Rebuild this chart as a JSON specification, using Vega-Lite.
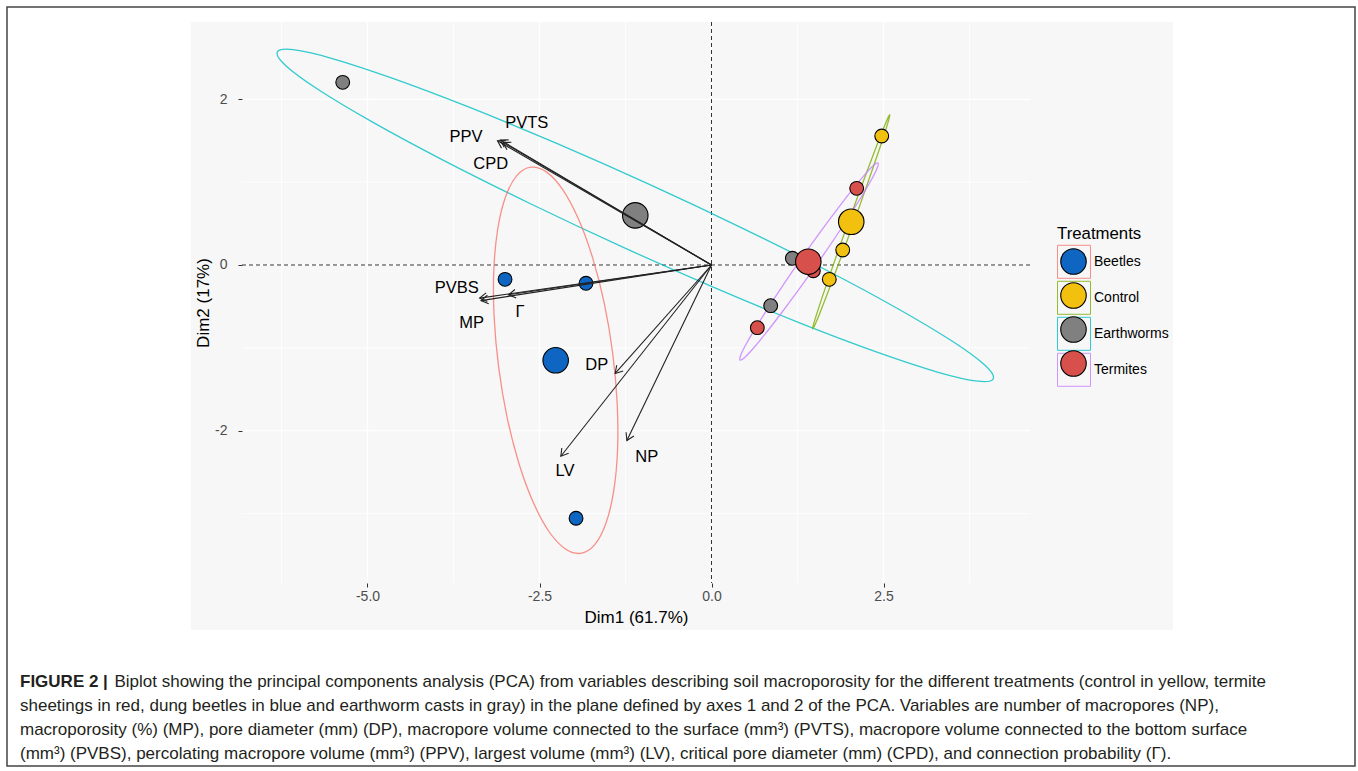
{
  "$schema": "https://vega.github.io/schema/vega-lite/v6.json",
  "width": 1348,
  "height": 759,
  "autosize": {"type": "none"},
  "padding": {"left": 7, "top": 7, "right": 3, "bottom": 5},
  "background": "white",
  "config": {
    "view": {"stroke": "#444444", "strokeWidth": 1.5, "fill": "white"},
    "font": "Liberation Sans",
    "locale": {"number": {"decimal": ".", "thousands": ",", "grouping": [3], "currency": ["$", ""], "minus": "-"}}
  },
  "title": {
    "text": "FIGURE 2 |",
    "subtitle": [
      "\u200b\u00a0\u00a0\u00a0\u00a0\u00a0\u00a0\u00a0\u00a0\u00a0\u00a0\u00a0\u00a0\u00a0\u00a0\u00a0\u00a0\u00a0\u00a0\u00a0\u00a0Biplot showing the principal components analysis (PCA) from variables describing soil macroporosity for the different treatments (control in yellow, termite",
      "sheetings in red, dung beetles in blue and earthworm casts in gray) in the plane defined by axes 1 and 2 of the PCA. Variables are number of macropores (NP),",
      "macroporosity (%) (MP), pore diameter (mm) (DP), macropore volume connected to the surface (mm³) (PVTS), macropore volume connected to the bottom surface",
      "(mm³) (PVBS), percolating macropore volume (mm³) (PPV), largest volume (mm³) (LV), critical pore diameter (mm) (CPD), and connection probability (Γ)."
    ],
    "orient": "bottom",
    "anchor": "start",
    "frame": "group",
    "offset": -92,
    "dx": 13,
    "font": "Liberation Sans",
    "fontSize": 17,
    "fontWeight": "bold",
    "color": "#231f20",
    "subtitleFont": "Liberation Sans",
    "subtitleFontSize": 17,
    "subtitleFontWeight": "normal",
    "subtitleColor": "#231f20",
    "subtitleLineHeight": 24,
    "subtitlePadding": -17
  },
  "datasets": {
    "individuals": [
      {"Treatments": "Beetles", "Dim1": -3.001, "Dim2": -0.173},
      {"Treatments": "Beetles", "Dim1": -1.824, "Dim2": -0.221},
      {"Treatments": "Beetles", "Dim1": -1.969, "Dim2": -3.059},
      {"Treatments": "Control", "Dim1": 2.474, "Dim2": 1.558},
      {"Treatments": "Control", "Dim1": 1.907, "Dim2": 0.181},
      {"Treatments": "Control", "Dim1": 1.712, "Dim2": -0.173},
      {"Treatments": "Earthworms", "Dim1": -5.36, "Dim2": 2.206},
      {"Treatments": "Earthworms", "Dim1": 1.175, "Dim2": 0.081},
      {"Treatments": "Earthworms", "Dim1": 0.86, "Dim2": -0.491},
      {"Treatments": "Termites", "Dim1": 2.11, "Dim2": 0.926},
      {"Treatments": "Termites", "Dim1": 1.48, "Dim2": -0.069},
      {"Treatments": "Termites", "Dim1": 0.666, "Dim2": -0.757}
    ],
    "centroids": [
      {"Treatments": "Beetles", "Dim1": -2.265, "Dim2": -1.151},
      {"Treatments": "Control", "Dim1": 2.031, "Dim2": 0.522},
      {"Treatments": "Earthworms", "Dim1": -1.108, "Dim2": 0.599},
      {"Treatments": "Termites", "Dim1": 1.407, "Dim2": 0.04}
    ],
    "vars": [
      {"v": "PVTS", "Dim1": -3.07, "Dim2": 1.51, "heading": -59.4, "lx": -2.686, "ly": 1.719},
      {"v": "PPV", "Dim1": -3.11, "Dim2": 1.5, "heading": -59.9, "lx": -3.568, "ly": 1.542},
      {"v": "CPD", "Dim1": -3.03, "Dim2": 1.48, "heading": -59.6, "lx": -3.209, "ly": 1.216},
      {"v": "PVBS", "Dim1": -3.37, "Dim2": -0.4, "heading": -98.1, "lx": -3.703, "ly": -0.282},
      {"v": "MP", "Dim1": -3.35, "Dim2": -0.43, "heading": -98.8, "lx": -3.486, "ly": -0.697},
      {"v": "Γ", "Dim1": -2.95, "Dim2": -0.36, "heading": -98.4, "lx": -2.783, "ly": -0.564},
      {"v": "DP", "Dim1": -1.4, "Dim2": -1.31, "heading": -138.3, "lx": -1.669, "ly": -1.208},
      {"v": "LV", "Dim1": -2.19, "Dim2": -2.31, "heading": -141.8, "lx": -2.129, "ly": -2.484},
      {"v": "NP", "Dim1": -1.23, "Dim2": -2.12, "heading": -154.2, "lx": -0.942, "ly": -2.315}
    ],
    "gridx": [
      {"g": -6.25, "kind": "minor"}, {"g": -5, "kind": "major"}, {"g": -3.75, "kind": "minor"},
      {"g": -2.5, "kind": "major"}, {"g": -1.25, "kind": "minor"}, {"g": 0, "kind": "major"},
      {"g": 1.25, "kind": "minor"}, {"g": 2.5, "kind": "major"}, {"g": 3.75, "kind": "minor"}
    ],
    "gridy": [
      {"g": -3, "kind": "minor"}, {"g": -2, "kind": "major"}, {"g": -1, "kind": "minor"},
      {"g": 0, "kind": "major"}, {"g": 1, "kind": "minor"}, {"g": 2, "kind": "major"}
    ],
    "ellipses": [
      {"Group": "Earthworms", "k": 0, "Dim1": 4.095, "Dim2": -1.373},
      {"Group": "Earthworms", "k": 1, "Dim1": 3.865, "Dim2": -1.403},
      {"Group": "Earthworms", "k": 2, "Dim1": 3.295, "Dim2": -1.296},
      {"Group": "Earthworms", "k": 3, "Dim1": 2.426, "Dim2": -1.059},
      {"Group": "Earthworms", "k": 4, "Dim1": 1.316, "Dim2": -0.711},
      {"Group": "Earthworms", "k": 5, "Dim1": 0.042, "Dim2": -0.273},
      {"Group": "Earthworms", "k": 6, "Dim1": -1.313, "Dim2": 0.225},
      {"Group": "Earthworms", "k": 7, "Dim1": -2.654, "Dim2": 0.749},
      {"Group": "Earthworms", "k": 8, "Dim1": -3.888, "Dim2": 1.261},
      {"Group": "Earthworms", "k": 9, "Dim1": -4.932, "Dim2": 1.729},
      {"Group": "Earthworms", "k": 10, "Dim1": -5.717, "Dim2": 2.12},
      {"Group": "Earthworms", "k": 11, "Dim1": -6.187, "Dim2": 2.407},
      {"Group": "Earthworms", "k": 12, "Dim1": -6.311, "Dim2": 2.571},
      {"Group": "Earthworms", "k": 13, "Dim1": -6.081, "Dim2": 2.601},
      {"Group": "Earthworms", "k": 14, "Dim1": -5.511, "Dim2": 2.494},
      {"Group": "Earthworms", "k": 15, "Dim1": -4.642, "Dim2": 2.257},
      {"Group": "Earthworms", "k": 16, "Dim1": -3.532, "Dim2": 1.909},
      {"Group": "Earthworms", "k": 17, "Dim1": -2.258, "Dim2": 1.471},
      {"Group": "Earthworms", "k": 18, "Dim1": -0.903, "Dim2": 0.973},
      {"Group": "Earthworms", "k": 19, "Dim1": 0.438, "Dim2": 0.449},
      {"Group": "Earthworms", "k": 20, "Dim1": 1.672, "Dim2": -0.063},
      {"Group": "Earthworms", "k": 21, "Dim1": 2.716, "Dim2": -0.531},
      {"Group": "Earthworms", "k": 22, "Dim1": 3.501, "Dim2": -0.922},
      {"Group": "Earthworms", "k": 23, "Dim1": 3.971, "Dim2": -1.209},
      {"Group": "Beetles", "k": 0, "Dim1": -1.902, "Dim2": -3.483},
      {"Group": "Beetles", "k": 1, "Dim1": -1.7, "Dim2": -3.381},
      {"Group": "Beetles", "k": 2, "Dim1": -1.537, "Dim2": -3.126},
      {"Group": "Beetles", "k": 3, "Dim1": -1.423, "Dim2": -2.737},
      {"Group": "Beetles", "k": 4, "Dim1": -1.366, "Dim2": -2.24},
      {"Group": "Beetles", "k": 5, "Dim1": -1.371, "Dim2": -1.669},
      {"Group": "Beetles", "k": 6, "Dim1": -1.437, "Dim2": -1.062},
      {"Group": "Beetles", "k": 7, "Dim1": -1.559, "Dim2": -0.461},
      {"Group": "Beetles", "k": 8, "Dim1": -1.73, "Dim2": 0.092},
      {"Group": "Beetles", "k": 9, "Dim1": -1.937, "Dim2": 0.561},
      {"Group": "Beetles", "k": 10, "Dim1": -2.165, "Dim2": 0.914},
      {"Group": "Beetles", "k": 11, "Dim1": -2.402, "Dim2": 1.125},
      {"Group": "Beetles", "k": 12, "Dim1": -2.628, "Dim2": 1.181},
      {"Group": "Beetles", "k": 13, "Dim1": -2.83, "Dim2": 1.079},
      {"Group": "Beetles", "k": 14, "Dim1": -2.993, "Dim2": 0.824},
      {"Group": "Beetles", "k": 15, "Dim1": -3.107, "Dim2": 0.435},
      {"Group": "Beetles", "k": 16, "Dim1": -3.164, "Dim2": -0.062},
      {"Group": "Beetles", "k": 17, "Dim1": -3.159, "Dim2": -0.633},
      {"Group": "Beetles", "k": 18, "Dim1": -3.093, "Dim2": -1.24},
      {"Group": "Beetles", "k": 19, "Dim1": -2.971, "Dim2": -1.841},
      {"Group": "Beetles", "k": 20, "Dim1": -2.8, "Dim2": -2.394},
      {"Group": "Beetles", "k": 21, "Dim1": -2.593, "Dim2": -2.863},
      {"Group": "Beetles", "k": 22, "Dim1": -2.365, "Dim2": -3.216},
      {"Group": "Beetles", "k": 23, "Dim1": -2.128, "Dim2": -3.427},
      {"Group": "Control", "k": 0, "Dim1": 2.591, "Dim2": 1.815},
      {"Group": "Control", "k": 1, "Dim1": 2.581, "Dim2": 1.768},
      {"Group": "Control", "k": 2, "Dim1": 2.534, "Dim2": 1.637},
      {"Group": "Control", "k": 3, "Dim1": 2.452, "Dim2": 1.429},
      {"Group": "Control", "k": 4, "Dim1": 2.341, "Dim2": 1.16},
      {"Group": "Control", "k": 5, "Dim1": 2.21, "Dim2": 0.847},
      {"Group": "Control", "k": 6, "Dim1": 2.066, "Dim2": 0.512},
      {"Group": "Control", "k": 7, "Dim1": 1.92, "Dim2": 0.177},
      {"Group": "Control", "k": 8, "Dim1": 1.781, "Dim2": -0.134},
      {"Group": "Control", "k": 9, "Dim1": 1.66, "Dim2": -0.399},
      {"Group": "Control", "k": 10, "Dim1": 1.564, "Dim2": -0.603},
      {"Group": "Control", "k": 11, "Dim1": 1.499, "Dim2": -0.73},
      {"Group": "Control", "k": 12, "Dim1": 1.471, "Dim2": -0.771},
      {"Group": "Control", "k": 13, "Dim1": 1.481, "Dim2": -0.724},
      {"Group": "Control", "k": 14, "Dim1": 1.528, "Dim2": -0.593},
      {"Group": "Control", "k": 15, "Dim1": 1.61, "Dim2": -0.385},
      {"Group": "Control", "k": 16, "Dim1": 1.721, "Dim2": -0.116},
      {"Group": "Control", "k": 17, "Dim1": 1.852, "Dim2": 0.197},
      {"Group": "Control", "k": 18, "Dim1": 1.996, "Dim2": 0.532},
      {"Group": "Control", "k": 19, "Dim1": 2.142, "Dim2": 0.867},
      {"Group": "Control", "k": 20, "Dim1": 2.281, "Dim2": 1.178},
      {"Group": "Control", "k": 21, "Dim1": 2.402, "Dim2": 1.443},
      {"Group": "Control", "k": 22, "Dim1": 2.498, "Dim2": 1.647},
      {"Group": "Control", "k": 23, "Dim1": 2.563, "Dim2": 1.774},
      {"Group": "Termites", "k": 0, "Dim1": 2.42, "Dim2": 1.232},
      {"Group": "Termites", "k": 1, "Dim1": 2.411, "Dim2": 1.177},
      {"Group": "Termites", "k": 2, "Dim1": 2.334, "Dim2": 1.045},
      {"Group": "Termites", "k": 3, "Dim1": 2.193, "Dim2": 0.843},
      {"Group": "Termites", "k": 4, "Dim1": 2.001, "Dim2": 0.589},
      {"Group": "Termites", "k": 5, "Dim1": 1.769, "Dim2": 0.296},
      {"Group": "Termites", "k": 6, "Dim1": 1.512, "Dim2": -0.014},
      {"Group": "Termites", "k": 7, "Dim1": 1.249, "Dim2": -0.32},
      {"Group": "Termites", "k": 8, "Dim1": 0.997, "Dim2": -0.601},
      {"Group": "Termites", "k": 9, "Dim1": 0.775, "Dim2": -0.839},
      {"Group": "Termites", "k": 10, "Dim1": 0.596, "Dim2": -1.017},
      {"Group": "Termites", "k": 11, "Dim1": 0.473, "Dim2": -1.123},
      {"Group": "Termites", "k": 12, "Dim1": 0.414, "Dim2": -1.148},
      {"Group": "Termites", "k": 13, "Dim1": 0.423, "Dim2": -1.093},
      {"Group": "Termites", "k": 14, "Dim1": 0.5, "Dim2": -0.961},
      {"Group": "Termites", "k": 15, "Dim1": 0.641, "Dim2": -0.759},
      {"Group": "Termites", "k": 16, "Dim1": 0.833, "Dim2": -0.505},
      {"Group": "Termites", "k": 17, "Dim1": 1.065, "Dim2": -0.212},
      {"Group": "Termites", "k": 18, "Dim1": 1.322, "Dim2": 0.098},
      {"Group": "Termites", "k": 19, "Dim1": 1.585, "Dim2": 0.404},
      {"Group": "Termites", "k": 20, "Dim1": 1.837, "Dim2": 0.685},
      {"Group": "Termites", "k": 21, "Dim1": 2.059, "Dim2": 0.923},
      {"Group": "Termites", "k": 22, "Dim1": 2.238, "Dim2": 1.101},
      {"Group": "Termites", "k": 23, "Dim1": 2.361, "Dim2": 1.207}
    ]
  },
  "layer": [
    {
      "data": {"values": [{}]},
      "mark": {"type": "rect", "fill": "#f7f7f7"},
      "encoding": {
        "x": {"datum": -7.565, "type": "quantitative",
          "scale": {"domain": [-6.824, 4.629], "range": [235, 1023], "nice": false, "zero": false},
          "axis": {"title": "Dim1 (61.7%)", "orient": "bottom", "offset": -183, "values": [-5, -2.5, 0, 2.5], "format": ".1f",
            "domain": false, "grid": false, "tickSize": 4, "tickColor": "#333333", "tickWidth": 1,
            "labelFontSize": 14, "labelColor": "#4d4d4d", "labelPadding": 2, "labelFlush": false,
            "titleFontSize": 17, "titleFontWeight": "normal", "titleColor": "#000000", "titlePadding": 6, "zindex": 1}},
        "x2": {"datum": 6.708},
        "y": {"datum": 2.935, "type": "quantitative",
          "scale": {"domain": [-3.841, 2.935], "range": [576, 15], "nice": false, "zero": false},
          "axis": {"title": "Dim2 (17%)", "orient": "left", "offset": -235, "values": [-2, 0, 2], "format": "d",
            "domain": false, "grid": false, "tickSize": 4, "tickColor": "#333333", "tickWidth": 1,
            "labelFontSize": 14, "labelColor": "#4d4d4d", "labelPadding": 11, "labelFlush": false,
            "titleFontSize": 17, "titleFontWeight": "normal", "titleColor": "#000000", "titlePadding": 2, "zindex": 1}},
        "y2": {"datum": -4.408}
      }
    },
    {
      "data": {"name": "gridx"},
      "mark": {"type": "rule", "stroke": "#ffffff"},
      "encoding": {
        "x": {"field": "g", "type": "quantitative", "scale": {"domain": [-6.824, 4.629], "range": [235, 1023], "nice": false, "zero": false}},
        "y": {"datum": 2.935, "type": "quantitative", "scale": {"domain": [-3.841, 2.935], "range": [576, 15], "nice": false, "zero": false}},
        "y2": {"datum": -3.841},
        "strokeWidth": {"field": "kind", "type": "nominal", "scale": {"domain": ["major", "minor"], "range": [1.4, 0.8]}, "legend": null}
      }
    },
    {
      "data": {"name": "gridy"},
      "mark": {"type": "rule", "stroke": "#ffffff"},
      "encoding": {
        "y": {"field": "g", "type": "quantitative", "scale": {"domain": [-3.841, 2.935], "range": [576, 15], "nice": false, "zero": false}},
        "x": {"datum": -6.824, "type": "quantitative", "scale": {"domain": [-6.824, 4.629], "range": [235, 1023], "nice": false, "zero": false}},
        "x2": {"datum": 4.629},
        "strokeWidth": {"field": "kind", "type": "nominal", "scale": {"domain": ["major", "minor"], "range": [1.4, 0.8]}, "legend": null}
      }
    },
    {
      "data": {"values": [{}]},
      "mark": {"type": "rule", "stroke": "#333333", "strokeWidth": 1, "strokeDash": [4, 3]},
      "encoding": {
        "x": {"datum": 0, "type": "quantitative", "scale": {"domain": [-6.824, 4.629], "range": [235, 1023], "nice": false, "zero": false}},
        "y": {"datum": 2.935, "type": "quantitative", "scale": {"domain": [-3.841, 2.935], "range": [576, 15], "nice": false, "zero": false}},
        "y2": {"datum": -3.841}
      }
    },
    {
      "data": {"values": [{}]},
      "mark": {"type": "rule", "stroke": "#333333", "strokeWidth": 1, "strokeDash": [4, 3]},
      "encoding": {
        "y": {"datum": 0, "type": "quantitative", "scale": {"domain": [-3.841, 2.935], "range": [576, 15], "nice": false, "zero": false}},
        "x": {"datum": -6.824, "type": "quantitative", "scale": {"domain": [-6.824, 4.629], "range": [235, 1023], "nice": false, "zero": false}},
        "x2": {"datum": 4.629}
      }
    },
    {
      "data": {"name": "ellipses"},
      "mark": {"type": "line", "interpolate": "cardinal-closed", "strokeWidth": 1.3, "opacity": 0.8},
      "encoding": {
        "x": {"field": "Dim1", "type": "quantitative", "scale": {"domain": [-6.824, 4.629], "range": [235, 1023], "nice": false, "zero": false}},
        "y": {"field": "Dim2", "type": "quantitative", "scale": {"domain": [-3.841, 2.935], "range": [576, 15], "nice": false, "zero": false}},
        "order": {"field": "k", "type": "quantitative"},
        "stroke": {"field": "Group", "type": "nominal",
          "scale": {"range": ["#F8766D", "#7CAE00", "#00BFC4", "#C77CFF"]},
          "legend": {"orient": "none", "legendX": 1050, "legendY": 219, "title": "Treatments",
            "titleFontSize": 16.8, "titleFontWeight": "normal", "titleColor": "#000000", "titlePadding": 2,
            "symbolType": "square", "symbolSize": 1089, "symbolStrokeWidth": 1, "symbolFillColor": "transparent", "symbolOpacity": 0.8,
            "labelFontSize": 14, "labelColor": "#000000", "labelOffset": 3, "rowPadding": -10, "padding": 0, "zindex": 1}}
      }
    },
    {
      "data": {"name": "individuals"},
      "mark": {"type": "point", "shape": "circle", "filled": true, "stroke": "#000000", "strokeWidth": 1.1, "opacity": 1, "size": 190},
      "encoding": {
        "x": {"field": "Dim1", "type": "quantitative", "scale": {"domain": [-6.824, 4.629], "range": [235, 1023], "nice": false, "zero": false}},
        "y": {"field": "Dim2", "type": "quantitative", "scale": {"domain": [-3.841, 2.935], "range": [576, 15], "nice": false, "zero": false}},
        "fill": {"field": "Treatments", "type": "nominal",
          "scale": {"range": ["#0F66C2", "#F2C10F", "#808080", "#D8504B"]},
          "legend": {"orient": "none", "legendX": 1053, "legendY": 241, "title": null,
            "symbolType": "circle", "symbolSize": 650, "symbolStrokeColor": "#000000", "symbolStrokeWidth": 1.1, "symbolOpacity": 1,
            "labelExpr": "''", "labelFontSize": 14, "rowPadding": 3, "padding": 0, "zindex": 2}}
      }
    },
    {
      "data": {"name": "centroids"},
      "mark": {"type": "point", "shape": "circle", "filled": true, "stroke": "#000000", "strokeWidth": 1.1, "opacity": 1, "size": 650},
      "encoding": {
        "x": {"field": "Dim1", "type": "quantitative", "scale": {"domain": [-6.824, 4.629], "range": [235, 1023], "nice": false, "zero": false}},
        "y": {"field": "Dim2", "type": "quantitative", "scale": {"domain": [-3.841, 2.935], "range": [576, 15], "nice": false, "zero": false}},
        "fill": {"field": "Treatments", "type": "nominal"}
      }
    },
    {
      "data": {"name": "vars"},
      "mark": {"type": "rule", "stroke": "#222222", "strokeWidth": 1.1},
      "encoding": {
        "x": {"field": "Dim1", "type": "quantitative", "scale": {"domain": [-6.824, 4.629], "range": [235, 1023], "nice": false, "zero": false}},
        "y": {"field": "Dim2", "type": "quantitative", "scale": {"domain": [-3.841, 2.935], "range": [576, 15], "nice": false, "zero": false}},
        "x2": {"datum": 0},
        "y2": {"datum": 0}
      }
    },
    {
      "data": {"name": "vars"},
      "mark": {"type": "point", "shape": "M -0.55 0.9 L 0 0 L 0.55 0.9", "filled": false, "stroke": "#222222", "strokeWidth": 1.1, "opacity": 1, "size": 250},
      "encoding": {
        "x": {"field": "Dim1", "type": "quantitative", "scale": {"domain": [-6.824, 4.629], "range": [235, 1023], "nice": false, "zero": false}},
        "y": {"field": "Dim2", "type": "quantitative", "scale": {"domain": [-3.841, 2.935], "range": [576, 15], "nice": false, "zero": false}},
        "angle": {"field": "heading", "type": "quantitative", "scale": null}
      }
    },
    {
      "data": {"name": "vars"},
      "mark": {"type": "text", "fontSize": 16.5, "color": "#000000", "align": "center", "baseline": "middle"},
      "encoding": {
        "x": {"field": "lx", "type": "quantitative", "scale": {"domain": [-6.824, 4.629], "range": [235, 1023], "nice": false, "zero": false}},
        "y": {"field": "ly", "type": "quantitative", "scale": {"domain": [-3.841, 2.935], "range": [576, 15], "nice": false, "zero": false}},
        "text": {"field": "v", "type": "nominal"}
      }
    }
  ]
}
